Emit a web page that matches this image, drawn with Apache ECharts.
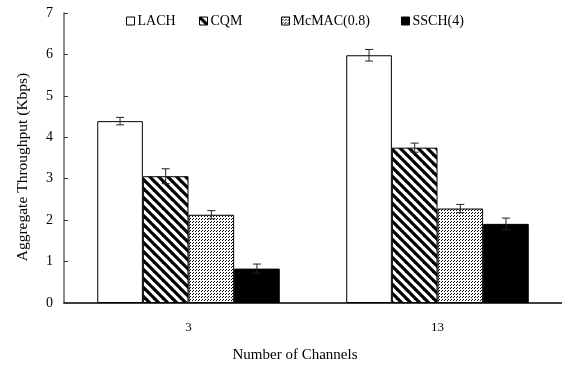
<!DOCTYPE html>
<html>
<head>
<meta charset="utf-8">
<script src="https://cdn.jsdelivr.net/npm/echarts@6/dist/echarts.min.js"></script>
<style>
  html, body { margin: 0; padding: 0; background: #fff; }
  #chart { width: 562px; height: 368px; }
</style>
</head>
<body>
<div id="chart"></div>
<script>
// Aggregate throughput per protocol, for 3 and 13 channels
const channels = ['3', '13'];
const protocols = ['LACH', 'CQM', 'McMAC(0.8)', 'SSCH(4)'];
const lach = [4.39, 5.98];
const cqm = [3.06, 3.75];
const mcmac = [2.13, 2.28];
const ssch = [0.83, 1.91];
// half-width of the error bars
const lachErr = [0.09, 0.14];
const cqmErr = [0.18, 0.11];
const mcmacErr = [0.1, 0.1];
const sschErr = [0.11, 0.14];
const yTicks = [0, 1, 2, 3, 4, 5, 6, 7];

const FONT = "'Liberation Serif', 'Times New Roman', serif";
const CAT_GAP = 0.267;

// fill patterns drawn on small tiles
function hatchTile() {
  const c = document.createElement('canvas');
  c.width = 9; c.height = 9;
  const g = c.getContext('2d');
  g.fillStyle = '#fff'; g.fillRect(0, 0, 9, 9);
  g.strokeStyle = '#000'; g.lineWidth = 3.2;
  for (let k = -2; k <= 2; k++) {
    g.beginPath();
    g.moveTo(k * 9 - 9, -9);
    g.lineTo(k * 9 + 18, 18);
    g.stroke();
  }
  return c;
}
function dotTile() {
  const c = document.createElement('canvas');
  c.width = 3; c.height = 3;
  const g = c.getContext('2d');
  g.fillStyle = '#fff'; g.fillRect(0, 0, 3, 3);
  g.fillStyle = '#000';
  g.fillRect(0, 0, 1, 1);
  g.fillRect(1, 2, 1, 1);
  return c;
}

const fills = [
  '#ffffff',
  { image: hatchTile(), repeat: 'repeat' },
  { image: dotTile(), repeat: 'repeat' },
  '#000000'
];
const values = [lach, cqm, mcmac, ssch];
const errs = [lachErr, cqmErr, mcmacErr, sschErr];

const barSeries = protocols.map((name, i) => ({
  name: name,
  type: 'bar',
  data: values[i],
  barGap: 0,
  barCategoryGap: (CAT_GAP * 100) + '%',
  itemStyle: { color: fills[i], borderColor: '#000', borderWidth: 1 },
  emphasis: { disabled: true },
  animation: false
}));

// error bar items: [category, series, low, high]
const errData = [];
values.forEach((vals, s) => {
  vals.forEach((v, c) => {
    errData.push([c, s, v - errs[s][c], v + errs[s][c]]);
  });
});

const errorSeries = {
  type: 'custom',
  name: 'err',
  data: errData,
  encode: { x: 0, y: [2, 3] },
  z: 10,
  animation: false,
  renderItem: function (params, api) {
    const cat = api.value(0);
    const s = api.value(1);
    const band = api.size([1, 0])[0];
    const barW = band * (1 - CAT_GAP) / protocols.length;
    const base = api.coord([cat, 0]);
    const x = base[0] + (s - (protocols.length - 1) / 2) * barW;
    const yLo = api.coord([cat, api.value(2)])[1];
    const yHi = api.coord([cat, api.value(3)])[1];
    const cap = 4;
    const style = { stroke: '#222', lineWidth: 1 };
    return {
      type: 'group',
      children: [
        { type: 'line', shape: { x1: x, y1: yLo, x2: x, y2: yHi }, style: style },
        { type: 'line', shape: { x1: x - cap, y1: yHi, x2: x + cap, y2: yHi }, style: style },
        { type: 'line', shape: { x1: x - cap, y1: yLo, x2: x + cap, y2: yLo }, style: style }
      ]
    };
  }
};

const legendLefts = [126, 199, 281, 401];
const legends = protocols.map((name, i) => ({
  data: [name],
  left: legendLefts[i],
  top: 14,
  itemWidth: 8,
  itemHeight: 8,
  itemGap: 0,
  padding: 0,
  selectedMode: false,
  icon: 'rect',
  textStyle: { fontFamily: FONT, fontSize: 14, color: '#000', padding: [0, 0, 0, -2] },
  itemStyle: { borderColor: '#000', borderWidth: 1 }
}));

const chart = echarts.init(document.getElementById('chart'), null, { renderer: 'canvas' });
chart.setOption({
  backgroundColor: '#fff',
  animation: false,
  legend: legends,
  grid: { left: 64, top: 13, width: 502, height: 294.5, containLabel: false },
  xAxis: {
    type: 'category',
    data: channels,
    name: 'Number of Channels',
    nameLocation: 'middle',
    nameGap: 45,
    nameTextStyle: { fontFamily: FONT, fontSize: 15, color: '#000', padding: [0, 36, 0, 0] },
    axisLine: { lineStyle: { color: '#000', width: 1.5 } },
    axisTick: { inside: true, length: 4, lineStyle: { color: '#000' } },
    axisLabel: { fontFamily: FONT, fontSize: 13, color: '#000', margin: 18 },
    splitLine: { show: false }
  },
  yAxis: {
    type: 'value',
    min: yTicks[0],
    max: yTicks[yTicks.length - 1],
    interval: 1,
    name: 'Aggregate Throughput (Kbps)',
    nameLocation: 'middle',
    nameGap: 33,
    nameTextStyle: { fontFamily: FONT, fontSize: 15.5, color: '#000', padding: [0, 0, 0, -18] },
    axisLine: { show: true, lineStyle: { color: '#666', width: 1.5 } },
    axisTick: { show: true, inside: true, length: 4, lineStyle: { color: '#333' } },
    axisLabel: { fontFamily: FONT, fontSize: 14, color: '#000', margin: 11 },
    splitLine: { show: false }
  },
  series: barSeries.concat([errorSeries])
});
</script>
</body>
</html>
